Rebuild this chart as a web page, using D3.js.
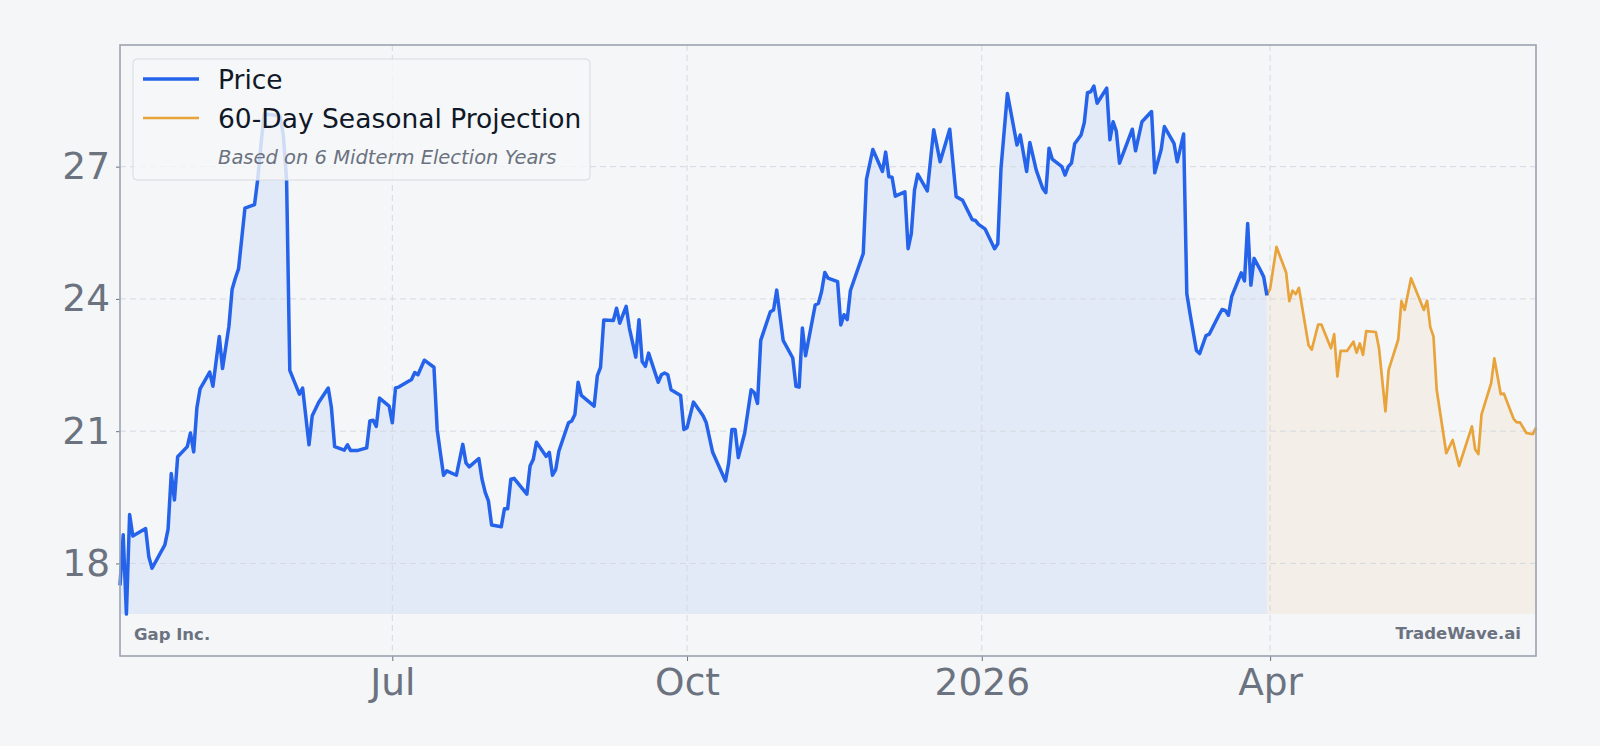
<!DOCTYPE html>
<html>
<head>
<meta charset="utf-8">
<script src="https://cdn.jsdelivr.net/npm/d3@7"></script>
<style>
  html, body { margin: 0; padding: 0; background: #f5f6f8; }
  svg { display: block; font-family: "DejaVu Sans", sans-serif; }
</style>
</head>
<body>
<script>
// Values (Gap Inc. daily close + seasonal projection)
var priceDates = [
  "2025-04-07","2025-04-08","2025-04-09","2025-04-10","2025-04-11","2025-04-15","2025-04-16","2025-04-17",
  "2025-04-21","2025-04-22","2025-04-23","2025-04-24","2025-04-25","2025-04-28","2025-04-29","2025-04-30",
  "2025-05-01","2025-05-02","2025-05-05","2025-05-06","2025-05-08","2025-05-09","2025-05-11","2025-05-12",
  "2025-05-13","2025-05-14","2025-05-16","2025-05-19","2025-05-20","2025-05-21","2025-05-22","2025-05-27",
  "2025-05-28","2025-05-29","2025-05-30",
  "2025-06-02","2025-06-03","2025-06-05","2025-06-06","2025-06-08","2025-06-11","2025-06-12","2025-06-13",
  "2025-06-16","2025-06-17","2025-06-18","2025-06-20","2025-06-23","2025-06-24","2025-06-25","2025-06-26",
  "2025-06-27","2025-06-30",
  "2025-07-01","2025-07-02","2025-07-03","2025-07-07","2025-07-08","2025-07-09","2025-07-11","2025-07-14",
  "2025-07-15","2025-07-16","2025-07-17","2025-07-18","2025-07-21","2025-07-23","2025-07-24","2025-07-25",
  "2025-07-28","2025-07-29","2025-07-30","2025-07-31","2025-08-01",
  "2025-08-04","2025-08-05","2025-08-06","2025-08-07","2025-08-08","2025-08-12","2025-08-13","2025-08-14",
  "2025-08-15","2025-08-18","2025-08-19","2025-08-20","2025-08-21","2025-08-22","2025-08-25","2025-08-26",
  "2025-08-27","2025-08-28","2025-08-29",
  "2025-09-02","2025-09-03","2025-09-04","2025-09-05","2025-09-08","2025-09-09","2025-09-10","2025-09-12",
  "2025-09-13","2025-09-15","2025-09-16","2025-09-17","2025-09-18","2025-09-19","2025-09-22","2025-09-23",
  "2025-09-24","2025-09-25","2025-09-26","2025-09-29","2025-09-30",
  "2025-10-01","2025-10-03","2025-10-06","2025-10-07","2025-10-09","2025-10-13","2025-10-14","2025-10-15",
  "2025-10-16","2025-10-17","2025-10-19","2025-10-21","2025-10-22","2025-10-23","2025-10-24","2025-10-27",
  "2025-10-28","2025-10-29","2025-10-31",
  "2025-11-03","2025-11-04","2025-11-05","2025-11-06","2025-11-07","2025-11-10","2025-11-11","2025-11-12",
  "2025-11-13","2025-11-14","2025-11-17","2025-11-18","2025-11-19","2025-11-20","2025-11-21","2025-11-25",
  "2025-11-26","2025-11-28",
  "2025-12-01","2025-12-02","2025-12-03","2025-12-04","2025-12-05","2025-12-08","2025-12-09","2025-12-10",
  "2025-12-11","2025-12-12","2025-12-15","2025-12-17","2025-12-19","2025-12-22","2025-12-24","2025-12-26",
  "2025-12-29","2025-12-30","2025-12-31",
  "2026-01-02","2026-01-05","2026-01-06","2026-01-07","2026-01-09","2026-01-12","2026-01-13","2026-01-15",
  "2026-01-16","2026-01-18","2026-01-20","2026-01-21","2026-01-22","2026-01-23","2026-01-26","2026-01-27",
  "2026-01-28","2026-01-29","2026-01-30",
  "2026-02-01","2026-02-02","2026-02-03","2026-02-04","2026-02-05","2026-02-06","2026-02-09","2026-02-10",
  "2026-02-11","2026-02-12","2026-02-13","2026-02-17","2026-02-18","2026-02-20","2026-02-23","2026-02-24",
  "2026-02-26","2026-02-27",
  "2026-03-02","2026-03-03","2026-03-05","2026-03-06","2026-03-07","2026-03-09","2026-03-10","2026-03-12",
  "2026-03-13","2026-03-16","2026-03-17","2026-03-18","2026-03-19","2026-03-20","2026-03-23","2026-03-24",
  "2026-03-25","2026-03-26","2026-03-27","2026-03-29","2026-03-30","2026-03-31"
];
var priceValues = [
  17.50,18.65,16.85,19.11,18.62,18.79,18.15,17.89,
  18.42,18.77,20.04,19.44,20.42,20.65,20.96,20.53,
  21.53,21.96,22.34,22.02,23.15,22.42,23.38,24.22,
  24.47,24.68,26.06,26.14,26.72,27.50,28.20,28.15,
  27.70,26.70,22.38,
  21.84,21.98,20.69,21.35,21.65,21.98,21.53,20.65,
  20.57,20.69,20.56,20.56,20.62,21.23,21.25,21.11,
  21.75,21.57,
  21.19,21.98,22.00,22.17,22.33,22.28,22.61,22.45,
  21.04,20.51,20.00,20.10,20.00,20.70,20.28,20.19,
  20.38,19.91,19.61,19.42,18.87,
  18.83,19.24,19.24,19.91,19.93,19.57,20.21,20.36,
  20.75,20.43,20.52,20.00,20.13,20.55,21.19,21.23,
  21.38,22.11,21.81,
  21.57,22.26,22.45,23.52,23.51,23.79,23.45,23.83,
  23.34,22.68,23.53,22.58,22.47,22.77,22.11,22.28,
  22.32,22.28,21.94,21.81,21.04,
  21.08,21.66,21.35,21.19,20.52,19.87,20.28,21.04,
  21.04,20.40,20.96,21.94,21.87,21.63,23.06,23.71,
  23.75,24.20,23.06,
  22.66,22.02,22.00,23.34,22.71,23.86,23.90,24.17,
  24.60,24.47,24.39,23.41,23.64,23.53,24.19,25.03,
  26.71,27.39,
  26.89,27.33,26.77,26.76,26.33,26.43,25.14,25.48,
  26.47,26.83,26.45,27.84,27.11,27.85,26.32,26.24,
  25.80,25.78,25.69,
  25.59,25.14,25.25,26.96,28.66,27.49,27.72,26.89,
  27.55,26.92,26.51,26.41,27.42,27.17,27.00,26.81,
  27.00,27.08,27.52,
  27.72,28.00,28.68,28.70,28.83,28.44,28.78,27.61,
  28.02,27.80,27.08,27.85,27.36,28.02,28.25,26.86,
  27.39,27.91,
  27.53,27.11,27.74,24.12,23.67,22.83,22.76,23.17,
  23.20,23.63,23.76,23.74,23.63,24.05,24.59,24.41,
  25.71,24.31,24.92,24.65,24.50,24.08
];
var projDates = [
  "2026-03-31","2026-04-01","2026-04-03","2026-04-06","2026-04-07","2026-04-08","2026-04-09","2026-04-10",
  "2026-04-13","2026-04-14","2026-04-16","2026-04-17","2026-04-20","2026-04-21","2026-04-22","2026-04-23",
  "2026-04-25","2026-04-27","2026-04-28","2026-04-29","2026-04-30",
  "2026-05-01","2026-05-04","2026-05-05","2026-05-07","2026-05-08","2026-05-11","2026-05-12","2026-05-13",
  "2026-05-15","2026-05-19","2026-05-20","2026-05-21","2026-05-22","2026-05-23","2026-05-26","2026-05-28",
  "2026-05-30",
  "2026-06-03","2026-06-04","2026-06-05","2026-06-06","2026-06-09","2026-06-10","2026-06-12","2026-06-13",
  "2026-06-16","2026-06-17","2026-06-18","2026-06-20","2026-06-22","2026-06-23"
];
var projValues = [
  24.08,24.23,25.18,24.60,23.95,24.19,24.11,24.25,
  22.95,22.85,23.42,23.42,22.88,23.20,22.24,22.82,
  22.82,23.03,22.78,22.99,22.73,
  23.27,23.25,22.88,21.45,22.39,23.08,23.95,23.75,
  24.47,23.75,23.96,23.36,23.15,21.94,20.50,20.80,
  20.21,
  21.11,20.59,20.48,21.38,22.09,22.65,21.84,21.85,
  21.28,21.20,21.20,20.96,20.93,21.08
];
var yTicks = [18, 21, 24, 27];
var yLimits = [15.9, 29.76];

var W = 1600, H = 746;
var margin = {top: 45, right: 64, bottom: 90, left: 120};
var iw = W - margin.left - margin.right,
    ih = H - margin.top - margin.bottom;

var parse = d3.utcParse("%Y-%m-%d");
var price = priceDates.map(function(d, i) { return {date: parse(d), value: priceValues[i]}; });
var proj = projDates.map(function(d, i) { return {date: parse(d), value: projValues[i]}; });

var svg = d3.select("body").append("svg")
    .attr("width", W)
    .attr("height", H);

svg.append("rect").attr("width", W).attr("height", H).attr("fill", "#f5f6f8");

var g = svg.append("g").attr("transform", "translate(" + margin.left + "," + margin.top + ")");

var x = d3.scaleUtc()
    .domain([price[0].date, proj[proj.length - 1].date])
    .range([0, iw]);
var y = d3.scaleLinear().domain(yLimits).range([ih, 0]);

var base = d3.min(priceValues);

// fills under the lines
var area = d3.area()
    .x(function(d) { return x(d.date); })
    .y0(y(base))
    .y1(function(d) { return y(d.value); });
g.append("path").datum(price).attr("d", area).attr("fill", "#e1eaf6");
g.append("path").datum(proj).attr("d", area).attr("fill", "#f3eee7");

// grid
var xTicks = x.ticks(d3.utcMonth.every(3));
g.append("g").selectAll("line").data(yTicks).enter().append("line")
    .attr("x1", 0).attr("x2", iw)
    .attr("y1", function(d) { return y(d); }).attr("y2", function(d) { return y(d); })
    .attr("stroke", "#d5d9e0").attr("stroke-width", 1).attr("stroke-dasharray", "6,4");
g.append("g").selectAll("line").data(xTicks).enter().append("line")
    .attr("y1", 0).attr("y2", ih)
    .attr("x1", function(d) { return x(d); }).attr("x2", function(d) { return x(d); })
    .attr("stroke", "#d5d9e0").attr("stroke-width", 1).attr("stroke-dasharray", "6,4");

// lines
var line = d3.line()
    .x(function(d) { return x(d.date); })
    .y(function(d) { return y(d.value); });
g.append("path").datum(proj).attr("d", line)
    .attr("fill", "none").attr("stroke", "#e8a33b").attr("stroke-width", 2.7)
    .attr("stroke-linejoin", "round");
g.append("path").datum(price).attr("d", line)
    .attr("fill", "none").attr("stroke", "#2563eb").attr("stroke-width", 3.5)
    .attr("stroke-linejoin", "round");

// axes
var fmt = function(d) { return d.getUTCMonth() === 0 ? d3.utcFormat("%Y")(d) : d3.utcFormat("%b")(d); };
var xAxis = g.append("g").attr("transform", "translate(0," + ih + ")")
    .call(d3.axisBottom(x).tickValues(xTicks).tickFormat(fmt).tickSize(5).tickPadding(7));
var yAxis = g.append("g")
    .call(d3.axisLeft(y).tickValues(yTicks).tickSize(4).tickPadding(6));
[xAxis, yAxis].forEach(function(a) {
    a.select(".domain").remove();
    a.selectAll("line").attr("stroke", "#6b7280");
    a.selectAll("text").attr("fill", "#6b7280")
        .style("font-size", "37.5px").style("font-family", "DejaVu Sans");
});

// frame
g.append("rect").attr("width", iw).attr("height", ih)
    .attr("fill", "none").attr("stroke", "#9ca3af").attr("stroke-width", 1.6);

// watermark texts
g.append("text").attr("x", 14).attr("y", ih - 16)
    .attr("fill", "#6b7280").style("font-size", "16.5px").style("font-weight", "bold")
    .text("Gap Inc.");
g.append("text").attr("x", iw - 15).attr("y", ih - 17).attr("text-anchor", "end")
    .attr("fill", "#6b7280").style("font-size", "16.5px").style("font-weight", "bold")
    .text("TradeWave.ai");

// legend
var lg = g.append("g").attr("transform", "translate(13,14)");
lg.append("rect").attr("width", 457).attr("height", 121).attr("rx", 4)
    .attr("fill", "#f5f6f8").attr("fill-opacity", 0.82)
    .attr("stroke", "#d6dae0").attr("stroke-width", 1);
lg.append("line").attr("x1", 10).attr("x2", 66).attr("y1", 20).attr("y2", 20)
    .attr("stroke", "#2563eb").attr("stroke-width", 3.5);
lg.append("line").attr("x1", 10).attr("x2", 66).attr("y1", 59).attr("y2", 59)
    .attr("stroke", "#e8a33b").attr("stroke-width", 2.7);
lg.append("text").attr("x", 85).attr("y", 30).attr("fill", "#111827")
    .style("font-size", "26.5px").text("Price");
lg.append("text").attr("x", 85).attr("y", 69).attr("fill", "#111827")
    .style("font-size", "26.5px").text("60-Day Seasonal Projection");
lg.append("text").attr("x", 85).attr("y", 105).attr("fill", "#6b7280")
    .style("font-size", "19.5px").style("font-style", "italic")
    .text("Based on 6 Midterm Election Years");
</script>
</body>
</html>
